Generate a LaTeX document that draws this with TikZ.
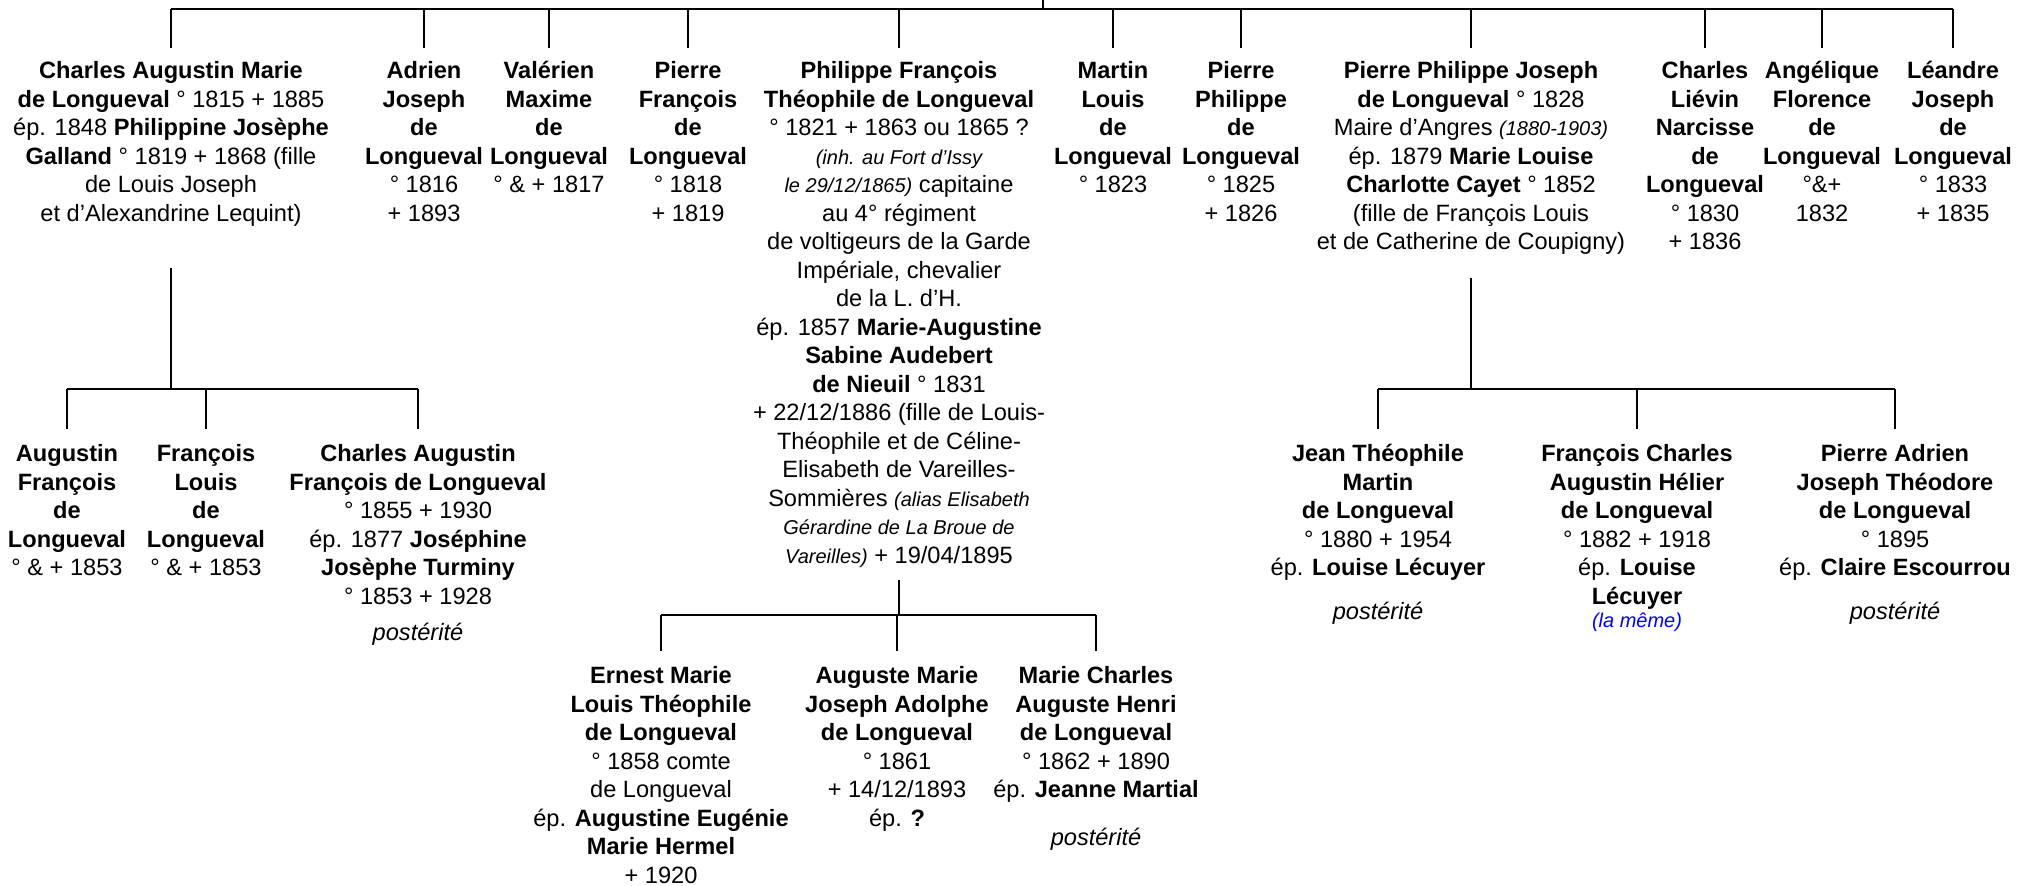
\documentclass[tikz,border=0pt]{standalone}
\usepackage{fontspec}
\setmainfont{Liberation Sans}
\newcommand{\smallit}[1]{{\fontsize{10}{11}\selectfont\itshape #1}}

\begin{document}
\begin{tikzpicture}[x=0.5pt,y=-0.5pt,font=\fontsize{11.8}{14.25}\selectfont,
  person/.style={align=center, inner sep=0pt, anchor=north},
  link/.style={line width=1.3pt}]
  \useasboundingbox (0,0) rectangle (2017,885);

  \node[person] (ca) at (171,61) {\textbf{Charles Augustin Marie}\\ \textbf{de Longueval} ° 1815 + 1885\\ ép. 1848 \textbf{Philippine Josèphe}\\ \textbf{Galland} ° 1819 + 1868 (fille\\ de Louis Joseph\\ et d’Alexandrine Lequint)};
  \node[person] (adrien) at (424,61) {\textbf{Adrien}\\ \textbf{Joseph}\\ \textbf{de}\\ \textbf{Longueval}\\ ° 1816\\ + 1893};
  \node[person] (valerien) at (549,61) {\textbf{Valérien}\\ \textbf{Maxime}\\ \textbf{de}\\ \textbf{Longueval}\\ ° \& + 1817};
  \node[person] (pf) at (688,61) {\textbf{Pierre}\\ \textbf{François}\\ \textbf{de}\\ \textbf{Longueval}\\ ° 1818\\ + 1819};
  \node[person] (phil) at (899,61) {\textbf{Philippe François}\\ \textbf{Théophile de Longueval}\\ ° 1821 + 1863 ou 1865 ?\\ \smallit{(inh. au Fort d’Issy}\\ \smallit{le 29/12/1865)} capitaine\\ au 4° régiment\\ de voltigeurs de la Garde\\ Impériale, chevalier\\ de la L. d’H.\\ ép. 1857 \textbf{Marie-Augustine}\\ \textbf{Sabine Audebert}\\ \textbf{de Nieuil} ° 1831\\ + 22/12/1886 (fille de Louis-\\ Théophile et de Céline-\\ Elisabeth de Vareilles-\\ Sommières \smallit{(alias Elisabeth}\\ \smallit{Gérardine de La Broue de}\\ \smallit{Vareilles)} + 19/04/1895};
  \node[person] (martin) at (1113,61) {\textbf{Martin}\\ \textbf{Louis}\\ \textbf{de}\\ \textbf{Longueval}\\ ° 1823};
  \node[person] (pp) at (1241,61) {\textbf{Pierre}\\ \textbf{Philippe}\\ \textbf{de}\\ \textbf{Longueval}\\ ° 1825\\ + 1826};
  \node[person] (ppj) at (1471,61) {\textbf{Pierre Philippe Joseph}\\ \textbf{de Longueval} ° 1828\\ Maire d’Angres \smallit{(1880-1903)}\\ ép. 1879 \textbf{Marie Louise}\\ \textbf{Charlotte Cayet} ° 1852\\ (fille de François Louis\\ et de Catherine de Coupigny)};
  \node[person] (cl) at (1705,61) {\textbf{Charles}\\ \textbf{Liévin}\\ \textbf{Narcisse}\\ \textbf{de}\\ \textbf{Longueval}\\ ° 1830\\ + 1836};
  \node[person] (ang) at (1822,61) {\textbf{Angélique}\\ \textbf{Florence}\\ \textbf{de}\\ \textbf{Longueval}\\ °\&+\\ 1832};
  \node[person] (leandre) at (1953,61) {\textbf{Léandre}\\ \textbf{Joseph}\\ \textbf{de}\\ \textbf{Longueval}\\ ° 1833\\ + 1835};

  \node[person] (af) at (67,444) {\textbf{Augustin}\\ \textbf{François}\\ \textbf{de}\\ \textbf{Longueval}\\ ° \& + 1853};
  \node[person] (fl) at (206,444) {\textbf{François}\\ \textbf{Louis}\\ \textbf{de}\\ \textbf{Longueval}\\ ° \& + 1853};
  \node[person] (caf) at (418,444) {\textbf{Charles Augustin}\\ \textbf{François de Longueval}\\ ° 1855 + 1930\\ ép. 1877 \textbf{Joséphine}\\ \textbf{Josèphe Turminy}\\ ° 1853 + 1928\\[3.75pt] \textit{postérité}};

  \node[person] (ernest) at (661,666) {\textbf{Ernest Marie}\\ \textbf{Louis Théophile}\\ \textbf{de Longueval}\\ ° 1858 comte\\ de Longueval\\ ép. \textbf{Augustine Eugénie}\\ \textbf{Marie Hermel}\\ + 1920};
  \node[person] (auguste) at (897,666) {\textbf{Auguste Marie}\\ \textbf{Joseph Adolphe}\\ \textbf{de Longueval}\\ ° 1861\\ + 14/12/1893\\ ép. \textbf{?}};
  \node[person] (mch) at (1096,666) {\textbf{Marie Charles}\\ \textbf{Auguste Henri}\\ \textbf{de Longueval}\\ ° 1862 + 1890\\ ép. \textbf{Jeanne Martial}\\[9.5pt] \textit{postérité}};

  \node[person] (jean) at (1378,444) {\textbf{Jean Théophile}\\ \textbf{Martin}\\ \textbf{de Longueval}\\ ° 1880 + 1954\\ ép. \textbf{Louise Lécuyer}\\[7.75pt] \textit{postérité}};
  \node[person] (fch) at (1637,444) {\textbf{François Charles}\\ \textbf{Augustin Hélier}\\ \textbf{de Longueval}\\ ° 1882 + 1918\\ ép. \textbf{Louise}\\ \textbf{Lécuyer}\\[-2.75pt] \textcolor{blue}{\smallit{(la même)}}};
  \node[person] (padr) at (1895,444) {\textbf{Pierre Adrien}\\ \textbf{Joseph Théodore}\\ \textbf{de Longueval}\\ ° 1895\\ ép. \textbf{Claire Escourrou}\\[7.75pt] \textit{postérité}};

  \coordinate (root) at (1043,0);
  \coordinate (bar) at (1043,9);
  \coordinate (cabar) at (171,389);
  \coordinate (ppjbar) at (1471,389);
  \coordinate (philbar) at (899,615);

  \draw[link] (root) -- (bar);
  \draw[link] (ca.north |- bar) -- (leandre.north |- bar);
  \foreach \n in {ca,adrien,valerien,pf,phil,martin,pp,ppj,cl,ang,leandre}
    \draw[link] (\n.north |- bar) -- ([yshift=6.75pt]\n.north);

  \draw[link] ([yshift=-21pt]ca.south) -- (cabar);
  \draw[link] (af.north |- cabar) -- (caf.north |- cabar);
  \foreach \n in {af,fl,caf}
    \draw[link] (\n.north |- cabar) -- ([yshift=7.5pt]\n.north);

  \draw[link] ([yshift=-6pt]phil.south) -- (philbar);
  \draw[link] (ernest.north |- philbar) -- (mch.north |- philbar);
  \foreach \n in {ernest,auguste,mch}
    \draw[link] (\n.north |- philbar) -- ([yshift=7.5pt]\n.north);

  \draw[link] ([yshift=-11.5pt]ppj.south) -- (ppjbar);
  \draw[link] (jean.north |- ppjbar) -- (padr.north |- ppjbar);
  \foreach \n in {jean,fch,padr}
    \draw[link] (\n.north |- ppjbar) -- ([yshift=7.5pt]\n.north);
\end{tikzpicture}
\end{document}
